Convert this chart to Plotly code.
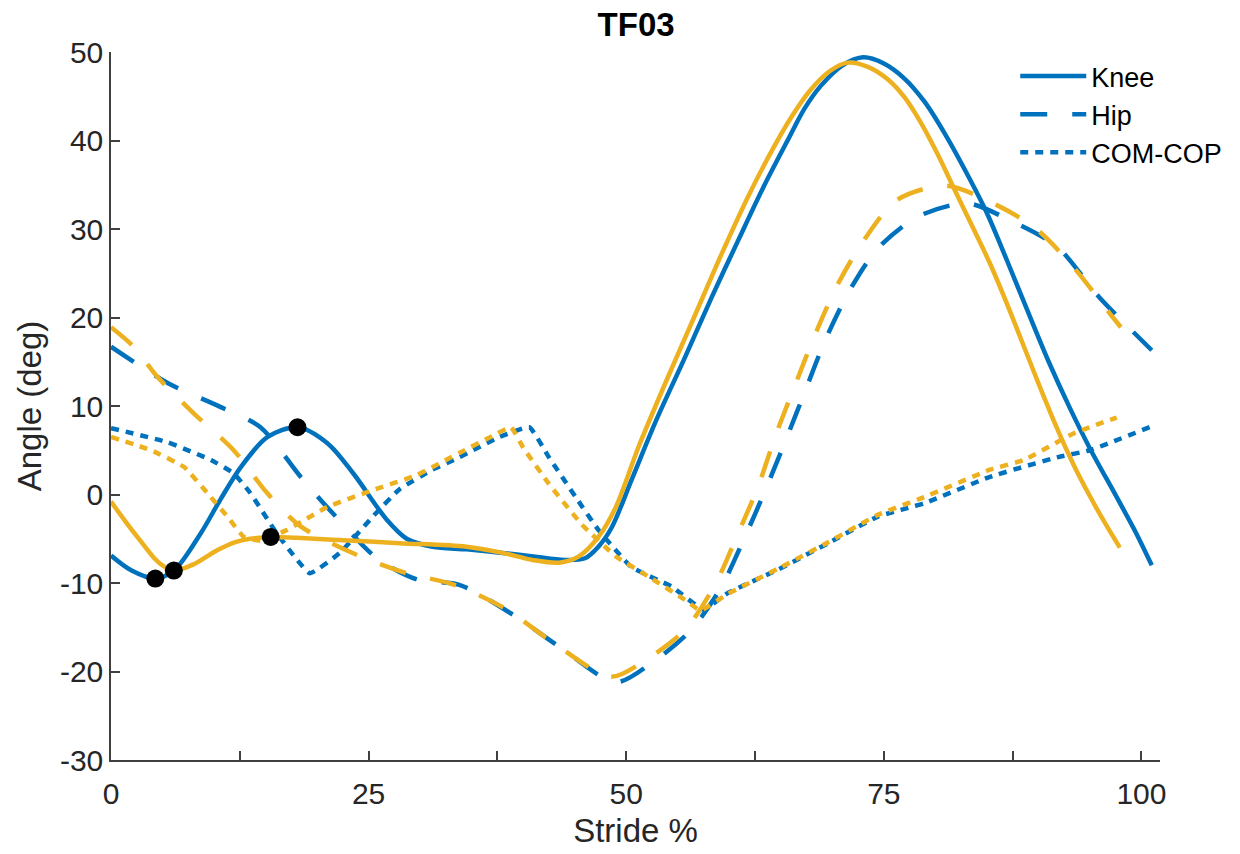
import plotly.graph_objects as go

# ---- stride % and joint / segment angles (deg) ----
# Knee
knee_blue_x = [0, 2, 4.3, 6.1, 8.7, 10.6, 12.6, 15.2, 18.1, 21, 23.5, 26.8, 28.7, 31.2,
               34.5, 38, 41, 44, 46, 47.3, 48.6, 50.5, 52.8, 55.7, 58.3, 60.9, 63.3, 65.7,
               67.3, 68.9, 71, 73, 75, 77, 79, 81, 83.4, 85, 87, 89, 91, 93, 95, 97.6,
               99.5, 101]
knee_blue_y = [-6.9, -8.6, -9.5, -8.6, -4.4, -0.6, 3.1, 6.5, 7.6, 5.8, 2.4, -2.9, -5.0, -5.9,
               -6.2, -6.6, -7.0, -7.4, -7.2, -5.9, -3.7, 1.6, 8.1, 15.5, 22.3, 28.8, 34.7, 40.1,
               43.6, 46.2, 48.5, 49.4, 48.7, 47.0, 44.3, 40.6, 35.5, 31.8, 26.3, 20.6, 15.0,
               9.9, 5.2, -0.3, -4.4, -8.0]

knee_yellow_x = [0, 1.5, 2.9, 4.2, 5.1, 6.1, 8, 10.3, 12, 13.5, 15.5, 18, 21.5, 28, 34.5,
                 38, 40.9, 43.5, 45.4, 47.3, 49, 51.2, 53.8, 56.5, 59.3, 61.8, 64.2, 66,
                 67.8, 69.7, 71.5, 73.5, 75.4, 77, 78.6, 80.2, 81.8, 83.5, 85.3, 87, 88.6,
                 90.2, 91.8, 93.4, 95, 96.5, 97.9]
knee_yellow_y = [-0.8, -3.2, -5.3, -7.2, -8.1, -8.6, -7.9, -6.3, -5.4, -5.0, -4.8, -4.9, -5.1,
                 -5.5, -5.9, -6.6, -7.4, -7.7, -7.0, -4.8, -1.4, 5.4, 12.6, 19.8, 27.3, 33.6,
                 39.0, 42.6, 45.6, 47.8, 48.8, 48.3, 46.9, 44.9, 42.0, 38.5, 34.6, 30.5, 26.1,
                 21.4, 16.7, 12.0, 7.5, 3.4, -0.2, -3.3, -6.0]

# Hip
hip_blue_x = [0, 5.5, 10.6, 14.5, 18.4, 21.5, 25.8, 29.7, 33.8, 39.3, 43.5, 49, 52.5, 56.3,
              59.2, 61.4, 63.5, 65.5, 67.4, 69.3, 71.7, 74.4, 78.3, 83.1, 87.2, 91.8, 95.9, 101]
hip_blue_y = [16.7, 12.6, 9.9, 7.6, 2.0, -2.1, -7.2, -9.6, -10.2, -13.8, -17.2, -21.2, -19.0,
              -15.3, -10.5, -5.1, 0.5, 6.2, 11.8, 17.4, 23.1, 27.8, 31.4, 32.9, 31.0, 28.0,
              22.3, 16.3]

hip_yellow_x = [0, 2.2, 4.5, 8, 11.9, 15.2, 18.4, 24.2, 28.7, 33.3, 38.4, 42.5, 48.5, 51.5,
                55.7, 58.7, 60.7, 62.8, 64.5, 66.4, 68.3, 70.5, 73.1, 76.3, 81, 86.3, 89.9,
                93.4, 96.9, 98]
hip_yellow_y = [18.9, 16.7, 13.3, 9.2, 5.0, 0.1, -3.6, -7.0, -8.9, -10.2, -13.0, -16.4, -20.6,
                -19.0, -15.3, -10.0, -4.8, 0.9, 6.7, 12.4, 18.0, 23.7, 28.8, 33.3, 34.9, 32.5,
                29.9, 25.7, 20.5, 18.9]

# COM-COP
com_blue_x = [0, 5.5, 9.7, 11.9, 13.5, 16.1, 19.3, 22.2, 25.4, 28, 31.2, 33.8, 37.7, 40.6,
              42.5, 45.1, 47.3, 50.5, 54.4, 57.5, 59.9, 64.7, 69.6, 74.4, 78.9, 85.3, 91.8,
              95, 101]
com_blue_y = [7.5, 5.9, 3.9, 2.4, 0.2, -4.4, -8.9, -6.6, -2.5, 0.6, 2.8, 4.2, 6.5, 7.6,
              4.2, -0.3, -4.0, -8.2, -10.4, -13.0, -11.1, -8.5, -5.5, -2.5, -1.0, 2.0, 4.2,
              5.0, 7.7]

com_yellow_x = [0, 3.9, 7.1, 9.4, 11.3, 12.9, 14.5, 17.1, 21, 25.4, 29.7, 33.8, 37, 38.8,
                40, 42.5, 45.7, 49, 52.2, 55.7, 57.2, 59.9, 64.7, 69.6, 74.4, 78.9, 85.3,
                88.6, 93.4, 97.6]
com_yellow_y = [6.5, 5.0, 3.1, 0.1, -2.5, -4.8, -5.2, -4.0, -1.4, 0.5, 2.2, 4.7, 6.6, 7.6,
                5.3, 1.2, -3.4, -7.0, -9.3, -11.9, -13.1, -11.2, -8.4, -5.4, -2.3, -0.3, 2.8,
                3.9, 6.9, 8.7]

# Gait events marked on the knee curves
event_x = [4.3, 18.1, 6.1, 15.5]
event_y = [-9.5, 7.6, -8.6, -4.8]

x_tick_vals = [0, 12.5, 25, 37.5, 50, 62.5, 75, 87.5, 100]
x_tick_text = ["0", "", "25", "", "50", "", "75", "", "100"]
y_tick_vals = [-30, -20, -10, 0, 10, 20, 30, 40, 50]
y_tick_text = ["-30", "-20", "-10", "0", "10", "20", "30", "40", "50"]

BLUE = "#0072BD"
YELLOW = "#EDB120"
LW = 4.5
DASH = "27px,25px"
DOT = "8px,7px"

fig = go.Figure()

series = [
    (knee_blue_x, knee_blue_y, BLUE, "solid", "Knee", True, 0.9),
    (hip_blue_x, hip_blue_y, BLUE, DASH, "Hip", True, 0.8),
    (com_blue_x, com_blue_y, BLUE, DOT, "COM-COP", True, 0.35),
    (knee_yellow_x, knee_yellow_y, YELLOW, "solid", "Knee", False, 0.9),
    (hip_yellow_x, hip_yellow_y, YELLOW, DASH, "Hip", False, 0.8),
    (com_yellow_x, com_yellow_y, YELLOW, DOT, "COM-COP", False, 0.35),
]
for xs, ys, color, dash, name, show, smooth in series:
    fig.add_trace(go.Scatter(
        x=xs, y=ys, mode="lines", name=name, showlegend=show,
        line=dict(color=color, width=LW, dash=dash, shape="spline", smoothing=smooth),
    ))

fig.add_trace(go.Scatter(
    x=event_x, y=event_y, mode="markers", showlegend=False,
    marker=dict(color="black", size=18, line=dict(width=0)),
))

AX_COLOR = "#404040"
TXT = "#262626"
FONT = "Liberation Sans, Arial, Helvetica, sans-serif"

fig.update_layout(
    width=1240, height=854,
    margin=dict(l=111, r=80, t=52, b=94),
    paper_bgcolor="white", plot_bgcolor="white",
    font=dict(family=FONT, color=TXT),
    title=dict(text="<b>TF03</b>", x=0.513, xanchor="center", y=1 - 24 / 854,
               yref="container", yanchor="middle",
               font=dict(size=33, color="black", family=FONT)),
    legend=dict(x=0.862, y=1.0, xanchor="left", yanchor="top",
                bgcolor="rgba(0,0,0,0)", borderwidth=0,
                font=dict(size=27, color="black", family=FONT),
                itemwidth=66, tracegroupgap=0),
    xaxis=dict(range=[0, 101.8], tickvals=x_tick_vals, ticktext=x_tick_text,
               ticks="inside", ticklen=9, tickwidth=1.5, tickcolor=AX_COLOR,
               showline=True, linecolor=AX_COLOR, linewidth=1.5, mirror=False,
               showgrid=False, zeroline=False, ticklabelstandoff=6,
               tickfont=dict(size=30, color=TXT),
               title=dict(text="Stride %", font=dict(size=33, color=TXT), standoff=10)),
    yaxis=dict(range=[-30, 50], tickvals=y_tick_vals, ticktext=y_tick_text,
               ticks="inside", ticklen=9, tickwidth=1.5, tickcolor=AX_COLOR,
               showline=True, linecolor=AX_COLOR, linewidth=1.5, mirror=False,
               showgrid=False, zeroline=False,
               tickfont=dict(size=30, color=TXT),
               title=dict(text="Angle (deg)", font=dict(size=33, color=TXT), standoff=8)),
)

fig.write_html("out.html")
